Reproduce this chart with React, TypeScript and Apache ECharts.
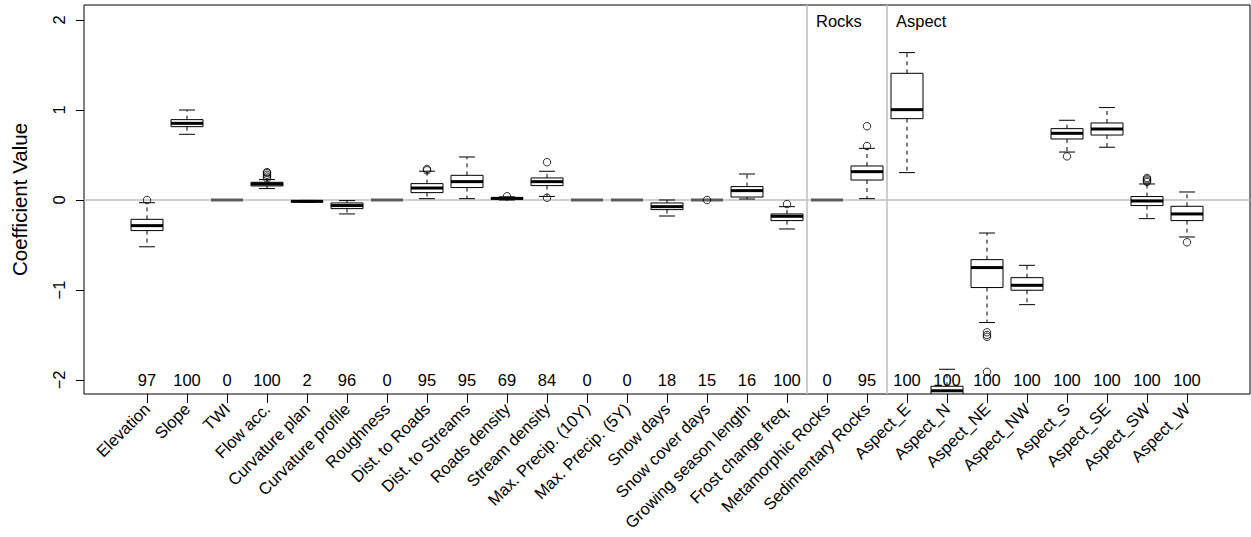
import React, { useEffect, useRef } from "react";
import * as echarts from "echarts";

const FONT = "'Liberation Sans', Arial, Helvetica, sans-serif";

const categories = [
  "Elevation", "Slope", "TWI", "Flow acc.", "Curvature plan", "Curvature profile",
  "Roughness", "Dist. to Roads", "Dist. to Streams", "Roads density", "Stream density",
  "Max. Precip. (10Y)", "Max. Precip. (5Y)", "Snow days", "Snow cover days",
  "Growing season length", "Frost change freq.", "Metamorphic Rocks", "Sedimentary Rocks",
  "Aspect_E", "Aspect_N", "Aspect_NE", "Aspect_NW", "Aspect_S", "Aspect_SE", "Aspect_SW", "Aspect_W",
];

const counts = [97, 100, 0, 100, 2, 96, 0, 95, 95, 69, 84, 0, 0, 18, 15, 16, 100, 0, 95, 100, 100, 100, 100, 100, 100, 100, 100];

// [lower whisker, Q1, median, Q3, upper whisker]
const boxStats = [
  [-0.52, -0.34, -0.285, -0.215, -0.03],
  [0.73, 0.815, 0.852, 0.893, 1.0],
  [0, 0, 0, 0, 0],
  [0.127, 0.156, 0.178, 0.197, 0.227],
  [-0.025, -0.02, -0.015, -0.01, -0.005],
  [-0.155, -0.096, -0.062, -0.033, -0.007],
  [0, 0, 0, 0, 0],
  [0.015, 0.082, 0.133, 0.182, 0.32],
  [0.015, 0.138, 0.204, 0.274, 0.478],
  [0.0, 0.01, 0.018, 0.025, 0.035],
  [0.04, 0.16, 0.204, 0.245, 0.319],
  [0, 0, 0, 0, 0],
  [0, 0, 0, 0, 0],
  [-0.178, -0.107, -0.074, -0.033, 0.0],
  [0, 0, 0, 0, 0],
  [0.011, 0.033, 0.104, 0.149, 0.289],
  [-0.322, -0.229, -0.181, -0.155, -0.074],
  [0, 0, 0, 0, 0],
  [0.015, 0.222, 0.315, 0.378, 0.574],
  [0.304, 0.904, 1.004, 1.408, 1.638],
  [-2.4, -2.18, -2.12, -2.07, -1.881],
  [-1.362, -0.973, -0.751, -0.663, -0.367],
  [-1.163, -1.003, -0.948, -0.863, -0.726],
  [0.533, 0.678, 0.741, 0.793, 0.886],
  [0.586, 0.722, 0.789, 0.856, 1.027],
  [-0.207, -0.062, -0.011, 0.038, 0.178],
  [-0.411, -0.229, -0.155, -0.07, 0.089],
];

// [category index, value]
const outliers = [
  [0, 0.0],
  [3, 0.24], [3, 0.26], [3, 0.28], [3, 0.30], [3, 0.31],
  [7, 0.33], [7, 0.345],
  [9, 0.041],
  [10, 0.42], [10, 0.025],
  [14, 0.0],
  [16, -0.045],
  [18, 0.82], [18, 0.60],
  [21, -1.47], [21, -1.50], [21, -1.52], [21, -1.91],
  [23, 0.485],
  [25, 0.2], [25, 0.215], [25, 0.23], [25, 0.245],
  [26, -0.47],
];

const sectionBreaks = [16.5, 18.5];
const sectionLabels = ["Rocks", "Aspect"];
const yTicks = [-2, -1, 0, 1, 2];
const zeroLine = [0];
const countRowY = -2;

export default function App() {
  const ref = useRef<HTMLDivElement>(null);
  useEffect(() => {
    if (!ref.current) return;
    const chart = echarts.init(ref.current, null, { renderer: "svg" });
    const idx = categories.map((_, i) => i);
    const refLineStyle = { stroke: "#bebebe", lineWidth: 1.5 };
    const option: any = {
      animation: false,
      backgroundColor: "#fff",
      grid: {
        show: true, left: 84, top: 5, width: 1166, height: 389,
        borderColor: "#000", borderWidth: 1, backgroundColor: "transparent",
      },
      xAxis: {
        type: "value", min: -1.575, max: 27.575,
        splitLine: { show: false }, axisLine: { show: false, onZero: false },
        axisTick: { show: true, customValues: idx, length: 9, lineStyle: { color: "#000", width: 1 } },
        axisLabel: {
          show: true, customValues: idx, rotate: 45, margin: 12,
          formatter: (v: number) => categories[Math.round(v)],
          fontSize: 16.5, color: "#000", fontFamily: FONT,
        },
      },
      yAxis: {
        type: "value", min: -2.156, max: 2.167,
        splitLine: { show: false }, axisLine: { show: false, onZero: false },
        axisTick: { show: true, customValues: yTicks, length: 8, lineStyle: { color: "#000", width: 1 } },
        axisLabel: {
          show: true, customValues: yTicks, rotate: 90, margin: 17,
          formatter: (v: number) => String(v).replace("-", "\u2212"),
          fontSize: 16.5, color: "#000", fontFamily: FONT,
        },
        name: "Coefficient Value", nameLocation: "middle", nameGap: 54, nameRotate: 90,
        nameTextStyle: { fontSize: 20.5, color: "#000", fontFamily: FONT },
      },
      series: [
        {
          // horizontal zero reference line
          type: "custom", z: 1, clip: true, silent: true,
          data: zeroLine.map((v) => [0, v]),
          renderItem: (params: any, api: any) => {
            const cs = params.coordSys;
            const y = api.coord([0, api.value(1)])[1];
            return { type: "line", shape: { x1: cs.x, y1: y, x2: cs.x + cs.width, y2: y }, style: refLineStyle };
          },
        },
        {
          // vertical section separators
          type: "custom", z: 1, clip: true, silent: true,
          data: sectionBreaks.map((b) => [b, 0]),
          renderItem: (params: any, api: any) => {
            const cs = params.coordSys;
            const x = api.coord([api.value(0), 0])[0];
            return { type: "line", shape: { x1: x, y1: cs.y, x2: x, y2: cs.y + cs.height }, style: refLineStyle };
          },
        },
        {
          type: "custom", clip: true, z: 3,
          data: boxStats.map((s, i) => [i, ...s]),
          renderItem: (params: any, api: any) => {
            const x = api.value(0);
            const lo = api.value(1), q1 = api.value(2), md = api.value(3), q3 = api.value(4), hi = api.value(5);
            const bw = api.size([0.8, 0])[0];
            const cw = bw / 2;
            const c = api.coord([x, md]);
            const cx = c[0];
            const yLo = api.coord([x, lo])[1];
            const yQ1 = api.coord([x, q1])[1];
            const yMd = c[1];
            const yQ3 = api.coord([x, q3])[1];
            const yHi = api.coord([x, hi])[1];
            const degenerate = q1 === q3 && lo === hi;
            const children: any[] = [];
            if (!degenerate) {
              const whisk = { stroke: "#000", lineWidth: 1, lineDash: [4, 4] };
              children.push({ type: "line", shape: { x1: cx, y1: yQ3, x2: cx, y2: yHi }, style: whisk });
              children.push({ type: "line", shape: { x1: cx, y1: yQ1, x2: cx, y2: yLo }, style: whisk });
              children.push({ type: "line", shape: { x1: cx - cw / 2, y1: yHi, x2: cx + cw / 2, y2: yHi }, style: { stroke: "#000", lineWidth: 1 } });
              children.push({ type: "line", shape: { x1: cx - cw / 2, y1: yLo, x2: cx + cw / 2, y2: yLo }, style: { stroke: "#000", lineWidth: 1 } });
              children.push({ type: "rect", shape: { x: cx - bw / 2, y: yQ3, width: bw, height: yQ1 - yQ3 }, style: { fill: "none", stroke: "#000", lineWidth: 1 } });
            }
            children.push({
              type: "line", shape: { x1: cx - bw / 2, y1: yMd, x2: cx + bw / 2, y2: yMd },
              style: { stroke: degenerate ? "#5e5e5e" : "#000", lineWidth: 3 },
            });
            return { type: "group", children };
          },
        },
        {
          type: "scatter", z: 4, clip: true,
          data: outliers,
          symbol: "circle", symbolSize: 7.5,
          itemStyle: { color: "rgba(0,0,0,0)", borderColor: "#000", borderWidth: 1 },
        },
        {
          type: "custom", z: 2, clip: false,
          data: counts.map((n, i) => [i, countRowY, n]),
          renderItem: (params: any, api: any) => {
            const p = api.coord([api.value(0), api.value(1)]);
            return {
              type: "text", x: p[0], y: p[1],
              style: {
                text: String(counts[params.dataIndex]), fill: "#000",
                font: `16.5px ${FONT}`, align: "center", verticalAlign: "middle",
              },
            };
          },
        },
        {
          type: "custom", z: 2, clip: false,
          data: sectionBreaks.map((b) => [b, 0]),
          renderItem: (params: any, api: any) => {
            const p = api.coord([api.value(0), 0]);
            return {
              type: "text", x: p[0] + 9, y: params.coordSys.y + 16,
              style: {
                text: sectionLabels[params.dataIndex], fill: "#000",
                font: `16.5px ${FONT}`, align: "left", verticalAlign: "middle",
              },
            };
          },
        },
      ],
    };
    chart.setOption(option);
    return () => chart.dispose();
  }, []);
  return <div ref={ref} style={{ position: "fixed", left: 0, top: 0, width: 1251, height: 537 }} />;
}
